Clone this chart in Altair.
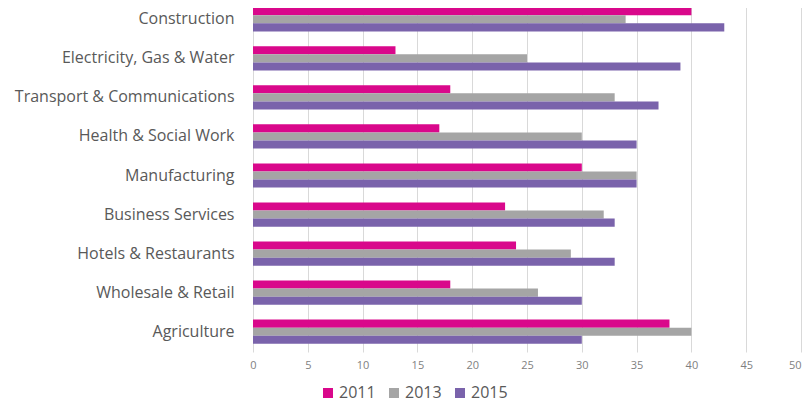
import altair as alt
import pandas as pd

categories = [
    "Construction",
    "Electricity, Gas & Water",
    "Transport & Communications",
    "Health & Social Work",
    "Manufacturing",
    "Business Services",
    "Hotels & Restaurants",
    "Wholesale & Retail",
    "Agriculture",
]
years = ["2011", "2013", "2015"]
values_2011 = [40, 13, 18, 17, 30, 23, 24, 18, 38]
values_2013 = [34, 25, 33, 30, 35, 32, 29, 26, 40]
values_2015 = [43, 39, 37, 35, 35, 33, 33, 30, 30]
colors = ["#D9088B", "#A5A5A5", "#7A63AB"]
x_ticks = [0, 5, 10, 15, 20, 25, 30, 35, 40, 45, 50]

rows = []
for year, vals in zip(years, [values_2011, values_2013, values_2015]):
    for cat, v in zip(categories, vals):
        rows.append({"Sector": cat, "Year": year, "Value": v})
df = pd.DataFrame(rows)

font = "Open Sans"

chart = (
    alt.Chart(df)
    .mark_bar()
    .encode(
        y=alt.Y(
            "Sector:N",
            sort=categories,
            title=None,
            scale=alt.Scale(paddingInner=0.38, paddingOuter=0.21),
            axis=alt.Axis(
                domain=False,
                ticks=False,
                labelFontSize=16,
                labelColor="#595959",
                labelFont=font,
                labelPadding=19,
                labelLimit=400,
            ),
        ),
        yOffset=alt.YOffset("Year:N", sort=years, scale=alt.Scale(paddingInner=0, paddingOuter=0)),
        x=alt.X(
            "Value:Q",
            title=None,
            scale=alt.Scale(domain=[0, 50], nice=False),
            axis=alt.Axis(
                values=x_ticks,
                domain=False,
                ticks=False,
                grid=True,
                gridColor="#D9D9D9",
                gridWidth=1,
                labelFontSize=11,
                labelColor="#7F7F7F",
                labelFont=font,
                labelPadding=7,
                labelAlign=alt.condition("datum.value == 50", alt.value("right"), alt.value("center")),
            ),
        ),
        color=alt.Color(
            "Year:N",
            sort=years,
            scale=alt.Scale(domain=years, range=colors),
            legend=alt.Legend(
                title=None,
                orient="none",
                direction="horizontal",
                legendX=67,
                legendY=386,
                symbolType="square",
                symbolSize=100,
                symbolStrokeWidth=0,
                labelFontSize=16,
                labelFont=font,
                labelColor="#595959",
                labelOffset=3,
                columnPadding=10,
                padding=0,
            ),
        ),
    )
    .properties(
        width=548,
        height=353,
        padding={"left": 245, "top": -9, "right": 2, "bottom": 50},
        autosize=alt.AutoSizeParams(type="none"),
    )
    .configure_view(stroke=None)
)

chart.save("out.html", embed_options={"renderer": "svg", "actions": False})
